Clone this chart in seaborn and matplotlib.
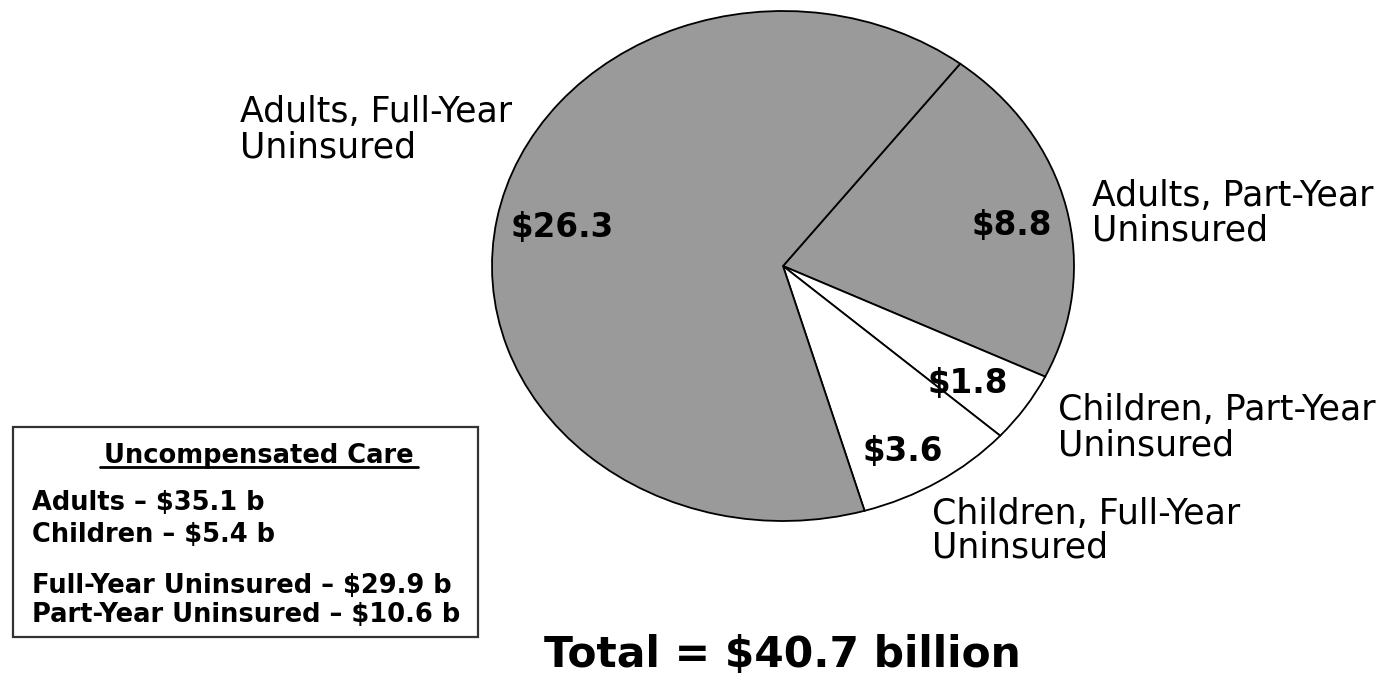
import matplotlib
matplotlib.use("Agg")
import matplotlib.pyplot as plt
from matplotlib.patches import Rectangle
from matplotlib.lines import Line2D
import seaborn as sns

# Uncompensated care by group, billions of dollars (clockwise order)
categories = [
    "Adults, Part-Year\nUninsured",
    "Children, Part-Year\nUninsured",
    "Children, Full-Year\nUninsured",
    "Adults, Full-Year\nUninsured",
]
values = [8.8, 1.8, 3.6, 26.3]
slice_colors = ["#9a9a9a", "#ffffff", "#ffffff", "#9a9a9a"]

summary_title = "Uncompensated Care"
summary_lines = [
    "Adults – $35.1 b",
    "Children – $5.4 b",
    "Full-Year Uninsured – $29.9 b",
    "Part-Year Uninsured – $10.6 b",
]
total_text = "Total = $40.7 billion"

sns.set_theme(style="white")
plt.rcParams["font.family"] = ["DejaVu Sans"]

W, H = 1382, 680
fig = plt.figure(figsize=(W / 100, H / 100), dpi=100)
fig.patch.set_facecolor("white")
ax = fig.add_axes([0, 0, 1, 1])

# pie centre (783, 266) px, radii 291 x 255 px -> elliptical pie
cx, cy, rx, ry = 783, 266, 291, 255
ax.pie(values, colors=slice_colors, startangle=52.5, counterclock=False,
       radius=1.0, center=(0, 0),
       wedgeprops=dict(edgecolor="black", linewidth=1.3))
ax.set_aspect("auto")
ax.set_xlim(-cx / rx, (W - cx) / rx)
ax.set_ylim((cy - H) / ry, cy / ry)
ax.axis("off")


def px(x, y):
    return x / W, 1 - y / H


# value labels inside the slices
value_pos = [(1012, 235), (968, 393), (903, 461), (562, 237)]
for v, (x, y) in zip(values, value_pos):
    fig.text(*px(x, y), f"${v:.1f}", ha="center", va="baseline",
             fontsize=23.5, fontweight="bold", color="black")

# category labels (left-aligned, one baseline per line)
label_pos = [
    (1092, [206, 240]),
    (1058, [420, 455]),
    (932, [524, 558]),
    (240, [122, 157]),
]
for name, (x, ys) in zip(categories, label_pos):
    for line, y in zip(name.split("\n"), ys):
        fig.text(*px(x, y), line, ha="left", va="baseline",
                 fontsize=25, color="black")

# summary box
fig.add_artist(Rectangle(px(13, 637), (478 - 13) / W, (637 - 427) / H,
                         transform=fig.transFigure, fill=False,
                         edgecolor="#333333", linewidth=1.6))
fig.text(*px(259, 463), summary_title, ha="center", va="baseline",
         fontsize=18.5, fontweight="bold", color="black")
fig.add_artist(Line2D([100 / W, 418 / W], [1 - 467 / H, 1 - 467 / H],
                      transform=fig.transFigure, color="black", linewidth=2))
for line, y in zip(summary_lines, [510, 542, 593, 622]):
    fig.text(*px(32, y), line, ha="left", va="baseline",
             fontsize=18.5, fontweight="bold", color="black")

# total
fig.text(*px(782, 667), total_text, ha="center", va="baseline",
         fontsize=30.5, fontweight="bold", color="black")

fig.savefig("out.png", dpi=100, facecolor="white")
